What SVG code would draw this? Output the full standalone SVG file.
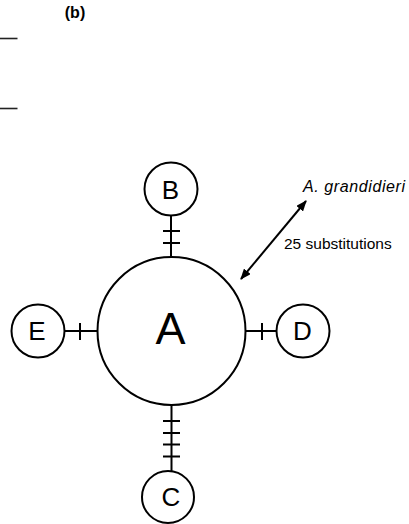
<svg xmlns="http://www.w3.org/2000/svg" width="409" height="524" viewBox="0 0 409 524">
<style>
.c{fill:#fff;stroke:#000;stroke-width:2}
.l{stroke:#000;stroke-width:2;fill:none}
.t{font-family:"Liberation Sans",Arial,sans-serif;fill:#000;text-anchor:middle}
</style>
<defs>
<marker id="ah" viewBox="0 0 10 8" refX="9" refY="4" markerWidth="5.5" markerHeight="4.4" orient="auto-start-reverse">
<path d="M0,0 L10,4 L0,8 Z" fill="#000"/>
</marker>
</defs>
<rect width="409" height="524" fill="#fff"/>
<text x="75" y="18" class="t" font-size="16" font-weight="bold">(b)</text>
<line x1="0" y1="38.5" x2="17.5" y2="38.5" stroke="#222" stroke-width="1.6"/>
<line x1="0" y1="108.5" x2="17.5" y2="108.5" stroke="#222" stroke-width="1.6"/>
<g id="connectors">
<line class="l" x1="171" y1="215" x2="171" y2="258"/>
<line class="l" x1="163" y1="231" x2="180" y2="231"/>
<line class="l" x1="163" y1="243" x2="180" y2="243"/>
<line class="l" x1="64" y1="331" x2="98" y2="331"/>
<line class="l" x1="80" y1="323" x2="80" y2="340"/>
<line class="l" x1="245" y1="331" x2="277" y2="331"/>
<line class="l" x1="262" y1="323" x2="262" y2="340"/>
<line class="l" x1="171.5" y1="404" x2="171.5" y2="472"/>
<line class="l" x1="163" y1="421" x2="180" y2="421"/>
<line class="l" x1="163" y1="433" x2="180" y2="433"/>
<line class="l" x1="163" y1="444.5" x2="180" y2="444.5"/>
<line class="l" x1="163" y1="456.5" x2="180" y2="456.5"/>
<line class="l" x1="241" y1="279" x2="306" y2="201" marker-start="url(#ah)" marker-end="url(#ah)"/>
</g>
<g id="A"><circle class="c" cx="171.5" cy="331" r="74"/><text class="t" x="170.5" y="343.5" font-size="45">A</text></g>
<g id="B"><circle class="c" cx="171" cy="189" r="26.5"/><text class="t" x="170.5" y="198.5" font-size="26">B</text></g>
<g id="C"><circle class="c" cx="168" cy="497" r="26"/><text class="t" x="171" y="505.5" font-size="26">C</text></g>
<g id="D"><circle class="c" cx="303" cy="331" r="26.5"/><text class="t" x="302.5" y="339.5" font-size="26">D</text></g>
<g id="E"><circle class="c" cx="38" cy="331" r="26.5"/><text class="t" x="37" y="339.5" font-size="26">E</text></g>
<text x="303" y="192" font-family="Liberation Sans,Arial,sans-serif" font-style="italic" font-size="16" letter-spacing="0.6">A. grandidieri</text>
<text x="284" y="249" font-family="Liberation Sans,Arial,sans-serif" font-size="15.5">25 substitutions</text>
</svg>
